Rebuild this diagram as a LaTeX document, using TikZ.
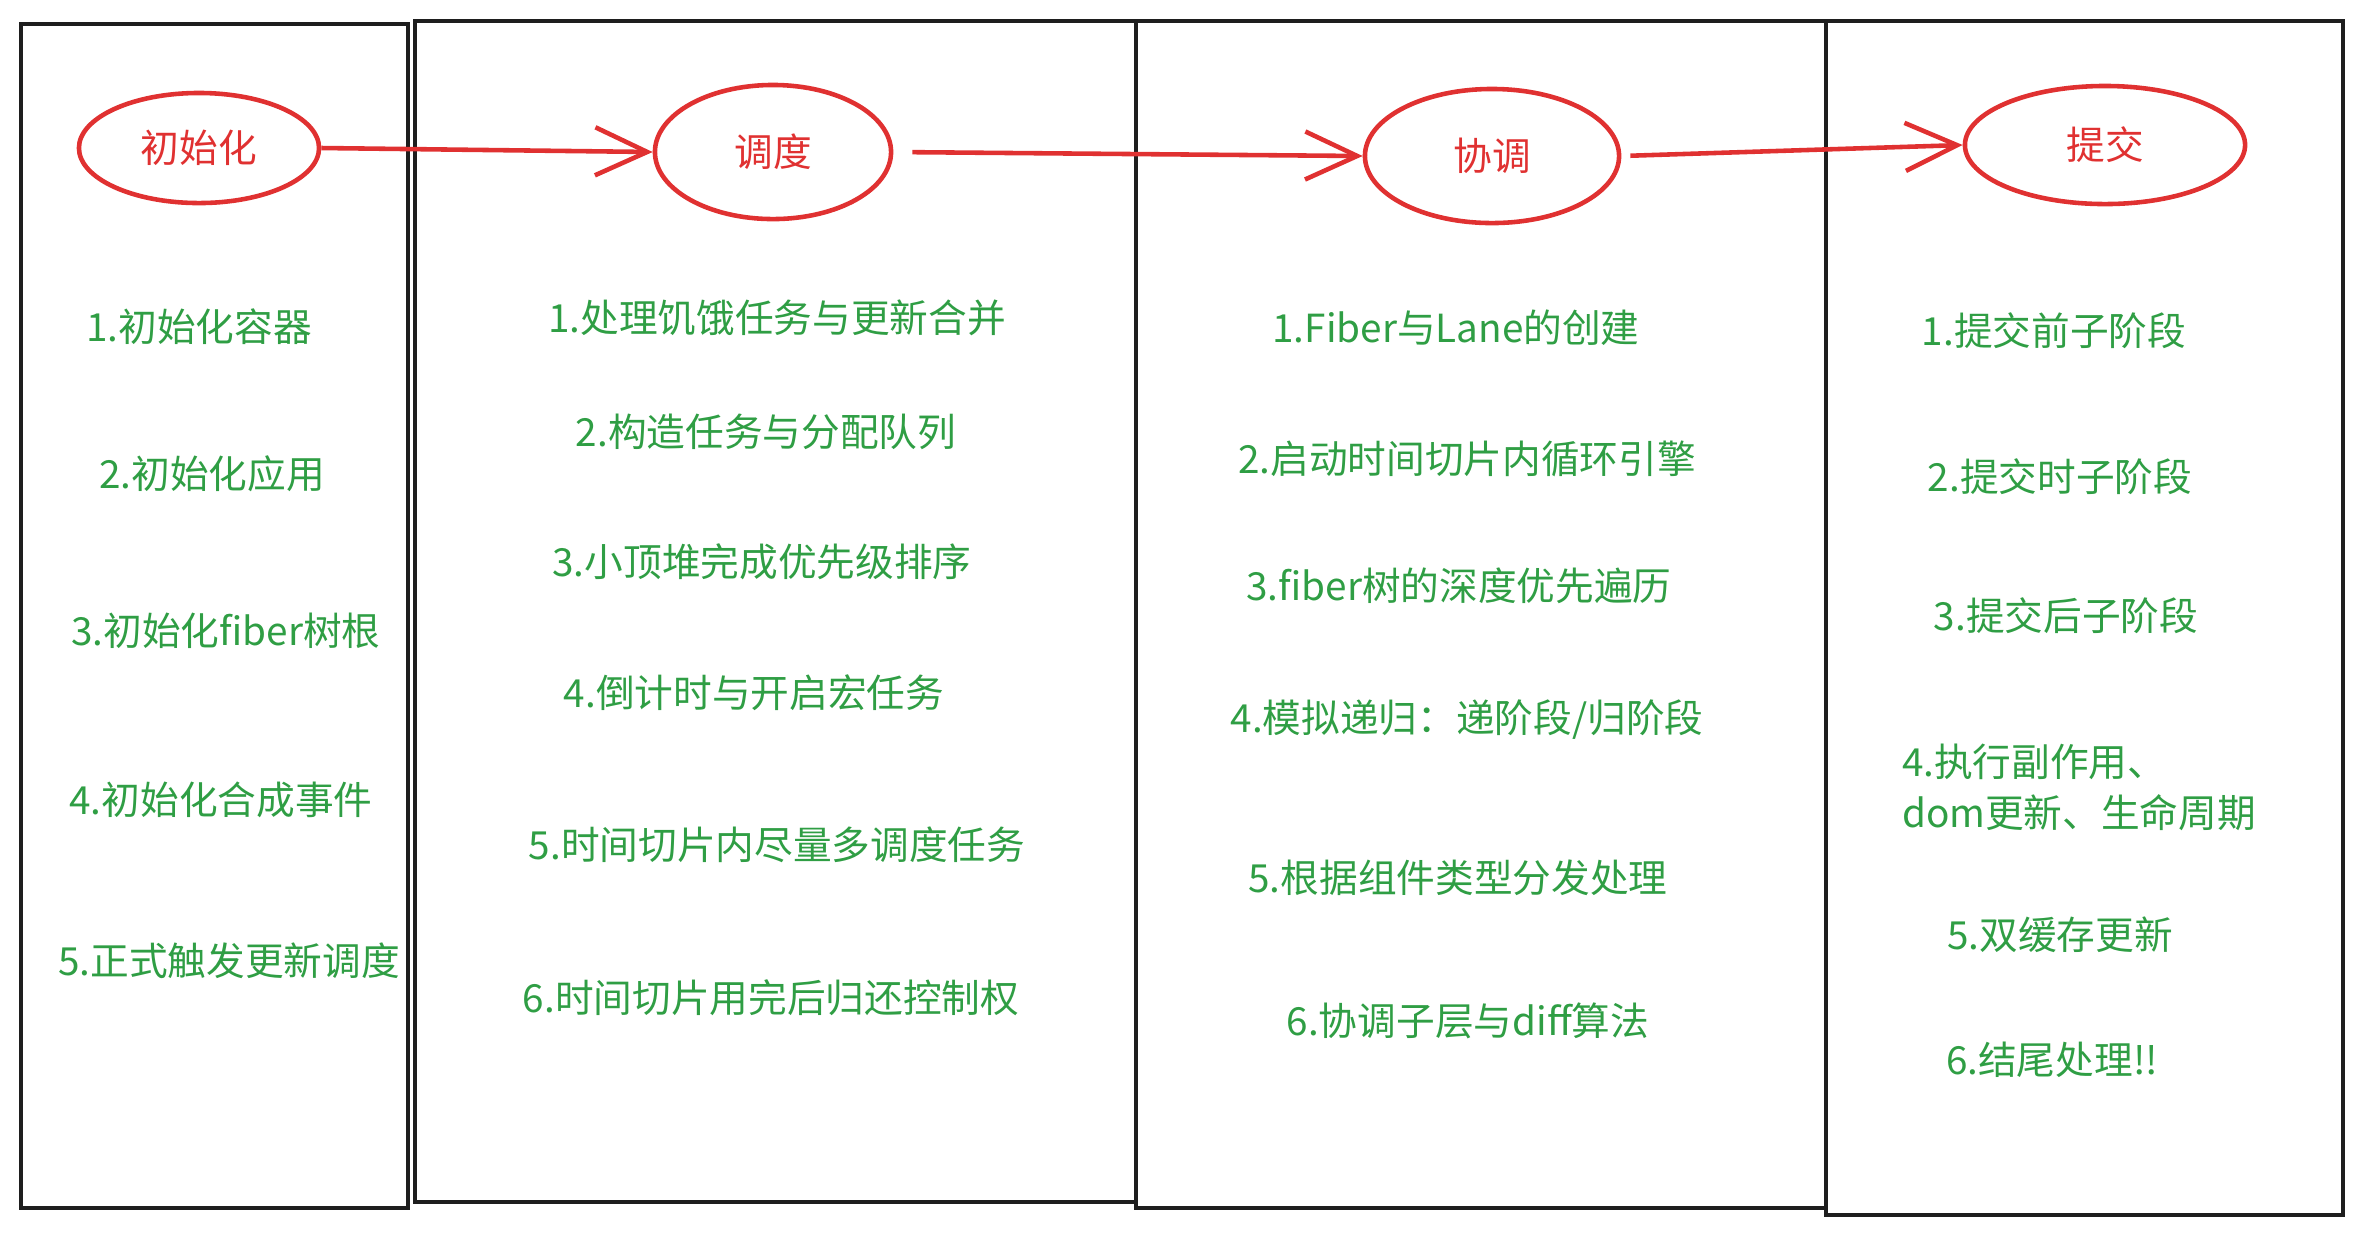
\documentclass[tikz,border=0pt]{standalone}
\usepackage{fontspec}
\setmainfont{Noto Sans CJK SC}
\usetikzlibrary{shapes.geometric,arrows.meta}

\definecolor{inkred}{HTML}{E03131}
\definecolor{inkgreen}{HTML}{2F9E44}
\definecolor{inkblack}{HTML}{1E1E1E}

\begin{document}
\begin{tikzpicture}[x=0.01cm, y=-0.01cm, font=\fontsize{11}{14.5}\selectfont,
  panel/.style={draw=inkblack, line width=1pt},
  phase/.style={ellipse, draw=inkred, line width=1.3pt, text=inkred, inner sep=0pt},
  flow/.style={draw=inkred, line width=1.3pt,
    -{Straight Barb[length=0.52cm, width=0.48cm, line width=1.3pt]}},
  item/.style={text=inkgreen, align=left}]

\useasboundingbox (0,0) rectangle (2361,1235);

\def\topy{21}
\def\colA{21}     % init
\def\colB{415}    % schedule
\def\colC{1136}   % reconcile
\def\colD{1826}   % commit

% columns
\draw[panel] (\colA,\topy+3) rectangle (408,1208);
\draw[panel] (\colB,\topy) rectangle (\colC,1202);
\draw[panel] (\colC,\topy) rectangle (\colD,1208);
\draw[panel] (\colD,\topy) rectangle (2343,1215);

% phases
\node[phase, minimum width=2.40cm, minimum height=1.10cm] (init)   at (199,148)  {初始化};
\node[phase, minimum width=2.36cm, minimum height=1.34cm] (sched)  at (773,152)  {调度};
\node[phase, minimum width=2.54cm, minimum height=1.34cm] (recon)  at (1492,156) {协调};
\node[phase, minimum width=2.80cm, minimum height=1.18cm] (commit) at (2105,145) {提交};

\draw[flow] (init.east) -- (sched.west);
\draw[flow, shorten <=0.19cm] (sched.east) -- (recon.west);
\draw[flow, shorten <=0.09cm] (recon.east) -- (commit.west);

% steps
\foreach \i/\x/\y/\txt in {
  1/199/327/{1.初始化容器},
  2/212/474/{2.初始化应用},
  3/226/631/{3.初始化fiber树根},
  4/221/800/{4.初始化合成事件},
  5/229/961/{5.正式触发更新调度}}
  \node[item] (init-\i) at (\x,\y) {\txt};

\foreach \i/\x/\y/\txt in {
  1/777/318/{1.处理饥饿任务与更新合并},
  2/766/432/{2.构造任务与分配队列},
  3/762/562/{3.小顶堆完成优先级排序},
  4/754/693/{4.倒计时与开启宏任务},
  5/777/845/{5.时间切片内尽量多调度任务},
  6/771/998/{6.时间切片用完后归还控制权}}
  \node[item] (sched-\i) at (\x,\y) {\txt};

\foreach \i/\x/\y/\txt in {
  1/1456/328/{1.Fiber与Lane的创建},
  2/1467/459/{2.启动时间切片内循环引擎},
  3/1459/586/{3.fiber树的深度优先遍历},
  4/1467/720/{4.模拟递归：递阶段/归阶段},
  5/1458/878/{5.根据组件类型分发处理},
  6/1468/1021/{6.协调子层与diff算法}}
  \node[item] (recon-\i) at (\x,\y) {\txt};

\foreach \i/\x/\y/\txt in {
  1/2054/331/{1.提交前子阶段},
  2/2060/477/{2.提交时子阶段},
  3/2066/616/{3.提交后子阶段},
  4/2079/787/{4.执行副作用、\\dom更新、生命周期},
  5/2060/935/{5.双缓存更新},
  6/2052/1060/{6.结尾处理!!}}
  \node[item] (commit-\i) at (\x,\y) {\txt};

\end{tikzpicture}
\end{document}
